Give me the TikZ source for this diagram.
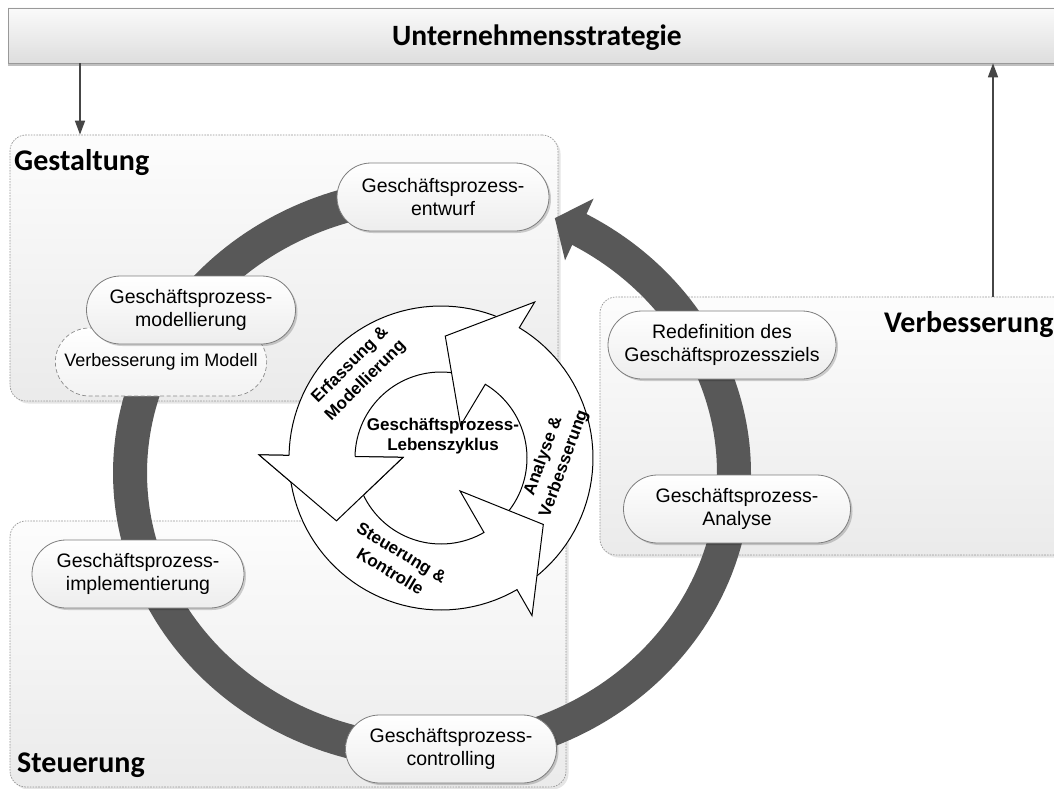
\documentclass[tikz,border=0pt]{standalone}
\usepackage{fontspec}
\setmainfont{Liberation Sans}
\newfontfamily\headfont{Carlito}
\usetikzlibrary{arrows.meta,shadows,shapes.misc,calc}

\definecolor{ringgray}{RGB}{88,88,88}
\definecolor{boxedge}{RGB}{150,150,150}
\definecolor{nodeedge}{RGB}{125,125,125}
\definecolor{linkgray}{RGB}{70,70,70}

% life-cycle geometry: centre, band radii, arrow-head radii
\def\lcx{441}\def\lcy{458}
\def\lro{152}\def\lri{86}
\def\lbo{182}\def\lbi{38}\def\lra{122}

% block arc arrow: #1 name, #2 tail angle, #3 base angle of head, #4 apex angle
\newcommand\lcarrow[4]{%
  \coordinate (#1ro) at ({\lcx+\lro*cos(#3)},{\lcy-\lro*sin(#3)});
  \coordinate (#1bo) at ({\lcx+\lbo*cos(#3)},{\lcy-\lbo*sin(#3)});
  \coordinate (#1ap) at ({\lcx+\lra*cos(#4)},{\lcy-\lra*sin(#4)});
  \coordinate (#1bi) at ({\lcx+\lbi*cos(#3)},{\lcy-\lbi*sin(#3)});
  \coordinate (#1ri) at ({\lcx+\lri*cos(#3)},{\lcy-\lri*sin(#3)});
  \filldraw[cycleline, fill=white]
    plot[domain=#2:#3,samples=40] ({\lcx+\lro*cos(\x)},{\lcy-\lro*sin(\x)})
    -- (#1bo) -- (#1ap) -- (#1bi) -- (#1ri)
    -- plot[domain=#3:#2,samples=40] ({\lcx+\lri*cos(\x)},{\lcy-\lri*sin(\x)})
    -- cycle;}

\begin{document}
\begin{tikzpicture}[x=1pt,y=-1pt,
  phasebox/.style={rectangle, draw=boxedge, line width=0.7pt,
    dash pattern=on 1.6pt off 1.2pt, rounded corners=16pt,
    top color=black!1, bottom color=black!8,
    drop shadow={shadow xshift=2.5pt,shadow yshift=-2.5pt,fill=black,opacity=0.10}},
  stratbar/.style={rectangle, draw=black!40, line width=0.7pt,
    top color=black!2, bottom color=black!13,
    drop shadow={shadow xshift=0pt,shadow yshift=-3pt,fill=black,opacity=0.25}},
  proc/.style={rounded rectangle, draw=nodeedge, line width=0.8pt,
    top color=white, bottom color=black!7, minimum height=68pt,
    align=center, inner sep=2pt, font=\fontsize{19.5}{23}\selectfont,
    drop shadow={shadow xshift=2pt,shadow yshift=-2pt,fill=black,opacity=0.18}},
  subproc/.style={rounded rectangle, draw=black!45, line width=0.7pt,
    dash pattern=on 4pt off 2.5pt, top color=white, bottom color=black!5,
    minimum height=68pt, align=center, font=\fontsize{18}{21}\selectfont},
  phaselabel/.style={font=\headfont\bfseries\fontsize{30}{34}\selectfont,
    inner sep=0pt, anchor=west},
  cycleline/.style={draw=black, line width=1pt, line join=miter},
  cyclelabel/.style={font=\bfseries\fontsize{17}{20.5}\selectfont,
    align=center, inner sep=0pt},
  turnlabel/.style={cyclelabel, font=\bfseries\fontsize{17}{22}\selectfont},
  link/.style={draw=linkgray, line width=1.6pt,
    -{Triangle[length=14pt,width=10pt]}}
]
\clip (0,0) rectangle (1054,789);
\fill[white] (0,0) rectangle (1054,789);

% phase areas
\node[phasebox, minimum width=470pt, minimum height=258pt] (verb) at (835,426) {};
\node[phasebox, minimum width=548pt, minimum height=266pt] (gest) at (284,268) {};
\node[phasebox, minimum width=556pt, minimum height=266pt] (steu) at (288,654) {};

% strategy bar and its links
\node[stratbar, minimum width=1062pt, minimum height=55pt] (strat) at (539,35.5) {};
\node[font=\headfont\bfseries\fontsize{29.5}{33}\selectfont, inner sep=0pt]
  (strattext) at (537,38) {Unternehmensstrategie};
\draw[link] (80,0 |- strat.south) -- (80,0 |- gest.north);
\draw[link] (993,0 |- verb.north) -- (993,0 |- strat.south);

% outer process ring with its arrow head
\coordinate (ringtip) at ({432+302*cos(66)},{473-279*sin(66)});
\coordinate (ringbase) at ({432+302*cos(60.8)},{473-279*sin(60.8)});
\draw[ringgray, line width=34pt]
  plot[domain=80:421.4,samples=240] ({432+302*cos(\x)},{473-279*sin(\x)});
\fill[ringgray] (ringtip) -- ($(ringbase)!34pt!90:(ringtip)$)
  -- ($(ringbase)!34pt!-90:(ringtip)$) -- cycle;

% inner life-cycle
\fill[white] (\lcx,\lcy) circle[radius=\lro];
\lcarrow{A}{64}{179}{211}
\lcarrow{B}{305}{419}{448}
\lcarrow{C}{184}{300}{327}
% head of the first arrow lies over the tail of the last one
\fill[white] (Abo) -- (Aap) -- (Abi) -- cycle;
\draw[cycleline] (Aro) -- (Abo) -- (Aap) -- (Abi) -- (Ari);

\node[cyclelabel] (lclabel) at (443,436) {Geschäftsprozess-\\Lebenszyklus};
\node[turnlabel, rotate=45] (lcA) at (358,373) {Erfassung \&\\Modellierung};
\node[turnlabel, rotate=70] (lcB) at (554,460) {Analyse \&\\Verbesserung};
\node[turnlabel, rotate=-31] (lcC) at (396,562) {Steuerung \&\\Kontrolle};

% process steps
\node[subproc, minimum width=218pt] (modimp) at (161,362) {Verbesserung im Modell};
\node[proc, minimum width=216pt] (entwurf) at (443,197) {Geschäftsprozess-\\entwurf};
\node[proc, minimum width=213pt] (modell) at (191,310) {Geschäftsprozess-\\modellierung};
\node[proc, minimum width=216pt] (impl) at (138,574) {Geschäftsprozess-\\implementierung};
\node[proc, minimum width=215pt] (contr) at (451,749) {Geschäftsprozess-\\controlling};
\node[proc, minimum width=231pt] (analyse) at (737,509) {Geschäftsprozess-\\Analyse};
\node[proc, minimum width=232pt] (redef) at (722,345) {Redefinition des\\Geschäftsprozessziels};

% phase titles
\node[phaselabel] (gestlabel) at (14,163) {Gestaltung};
\node[phaselabel] (steulabel) at (17,765) {Steuerung};
\node[phaselabel] (verblabel) at (884,325) {Verbesserung};
\end{tikzpicture}
\end{document}
